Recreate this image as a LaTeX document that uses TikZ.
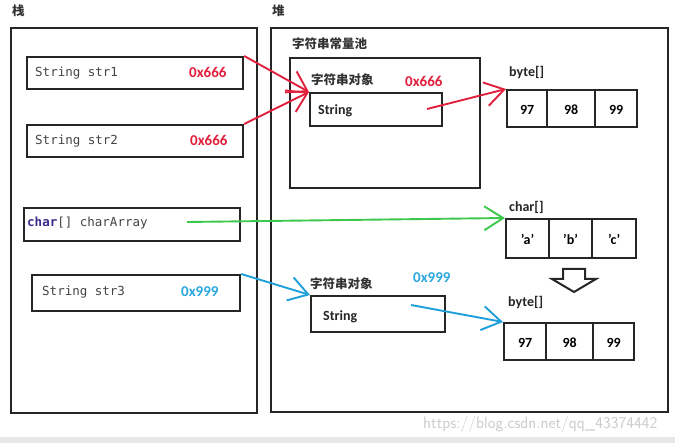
\documentclass[tikz,border=0pt]{standalone}
\usepackage{fontspec}
\setmainfont{Carlito}
\newfontfamily\cjk{Noto Sans CJK SC}
\newfontfamily\codefont{DejaVu Sans Mono}
\usetikzlibrary{arrows.meta}
\definecolor{addrred}{HTML}{E0203C}
\definecolor{addrblue}{HTML}{2AA8DE}
\definecolor{arrblue}{HTML}{1E9FDA}
\definecolor{arrgreen}{HTML}{3CC84C}
\definecolor{kwblue}{HTML}{3A2C8C}
\definecolor{codegray}{HTML}{444444}
\tikzset{
  box/.style={draw=black!85, line width=2.2pt, anchor=north west, inner sep=0pt},
  frame/.style={draw=black!85, line width=2.2pt, anchor=north west, inner sep=0pt},
  cell/.style={draw=black!85, line width=2.2pt, anchor=north west, inner sep=0pt, minimum height=37, text depth=0pt, text height=12pt, font=\bfseries\fontsize{14}{14}\selectfont},
  code/.style={anchor=west, inner sep=0pt, font=\codefont\fontsize{12.5}{12.5}\selectfont, text=codegray},
  addr/.style={anchor=west, inner sep=0pt, font=\bfseries\fontsize{15}{15}\selectfont},
  cn/.style={anchor=west, inner sep=0pt, font=\cjk\bfseries\fontsize{12.5}{12.5}\selectfont, text=black!80},
  lbl/.style={anchor=west, inner sep=0pt, font=\bfseries\fontsize{14}{14}\selectfont, text=black!85},
  ptr/.style={line width=1.9pt, -{Straight Barb[length=19pt,width=24pt,line width=1.9pt]}},
}
\begin{document}
\begin{tikzpicture}[x=1pt,y=-1pt]
\useasboundingbox (0,0) rectangle (675,443);
\fill[white] (0,0) rectangle (675,443);
\fill[gray!18] (0,437) rectangle (675,443);
% titles
\node[cn] (stackt) at (12,11) {栈};
\node[cn] (heapt) at (272,11) {堆};
% outer frames
\node[frame, minimum width=246, minimum height=385] (stack) at (10,27) {};
\node[frame, minimum width=397, minimum height=384] (heap) at (270,27) {};
% stack variables
\node[box, minimum width=216, minimum height=32] (str1) at (26,56) {};
\node[code] (str1t) at (35,73) {String str1};
\node[addr, text=addrred] (str1a) at (189,72) {0x666};
\node[box, minimum width=216, minimum height=32] (str2) at (26,124) {};
\node[code] (str2t) at (35,141) {String str2};
\node[addr, text=addrred] (str2a) at (190,140) {0x666};
\node[box, minimum width=216, minimum height=33] (carr) at (23,207) {};
\node[code] (carrt) at (27,223) {{\bfseries\color{kwblue}char}[] charArray};
\node[box, minimum width=208, minimum height=36] (str3) at (31,274) {};
\node[code] (str3t) at (42,292) {String str3};
\node[addr, text=addrblue] (str3a) at (181,292) {0x999};
% constant pool
\node[cn] (poolt) at (292,44) {字符串常量池};
\node[box, minimum width=190, minimum height=130] (pool) at (289,57) {};
\node[cn] (obj1t) at (311,80) {字符串对象};
\node[addr, text=addrred] (obj1a) at (405,81) {0x666};
\node[box, minimum width=132, minimum height=33] (obj1) at (309,92) {};
\node[lbl, anchor=west] (obj1s) at (318,111) {String};
% byte array 1
\node[lbl] (b1t) at (509,72) {byte[]};
\node[cell, minimum width=40] (b1a) at (506,89) {97};
\node[cell, minimum width=48] (b1b) at (546,89) {98};
\node[cell, minimum width=42] (b1c) at (594,89) {99};
% char array
\node[lbl] (ct) at (509,207) {char[]};
\node[cell, minimum width=43, minimum height=39] (ca) at (505,218) {'a'};
\node[cell, minimum width=43, minimum height=39] (cb) at (548,218) {'b'};
\node[cell, minimum width=44, minimum height=39] (cc) at (591,218) {'c'};
% hollow arrow
\draw[line width=2pt, black!85, line join=miter] (563,269) -- (585,269) -- (585,279) -- (596,279) -- (574,292) -- (552,279) -- (563,279) -- cycle;
% second string object
\node[cn] (obj2t) at (310,284) {字符串对象};
\node[addr, text=addrblue] (obj2a) at (413,278) {0x999};
\node[box, minimum width=134, minimum height=36] (obj2) at (310,295) {};
\node[lbl] (obj2s) at (323,317) {String};
% byte array 2
\node[lbl] (b2t) at (508,302) {byte[]};
\node[cell, minimum width=42] (b2a) at (503,322) {97};
\node[cell, minimum width=47] (b2b) at (545,322) {98};
\node[cell, minimum width=41] (b2c) at (592,322) {99};
% watermark
\node[anchor=west, inner sep=0pt, font=\sffamily\fontsize{16.5}{16.5}\selectfont, text=gray!40] (wm) at (423,424) {https://blog.csdn.net/qq\_43374442};
% pointer start coordinates
\coordinate (p1) at (427,109);
\coordinate (p2) at (187,222);
\coordinate (p3) at (411,305);
% arrows
\draw[ptr, addrred] (str1.north east) -- (obj1.north west);
\draw[ptr, addrred] (str2.north east) -- (obj1.north west);
\draw[ptr, addrred] (p1) -- (b1a.north west);
\draw[ptr, arrgreen] (p2) -- (ca.north west);
\draw[ptr, arrblue] (str3.north east) -- (obj2.north west);
\draw[ptr, arrblue] (p3) -- (b2a.north west);
\end{tikzpicture}
\end{document}
